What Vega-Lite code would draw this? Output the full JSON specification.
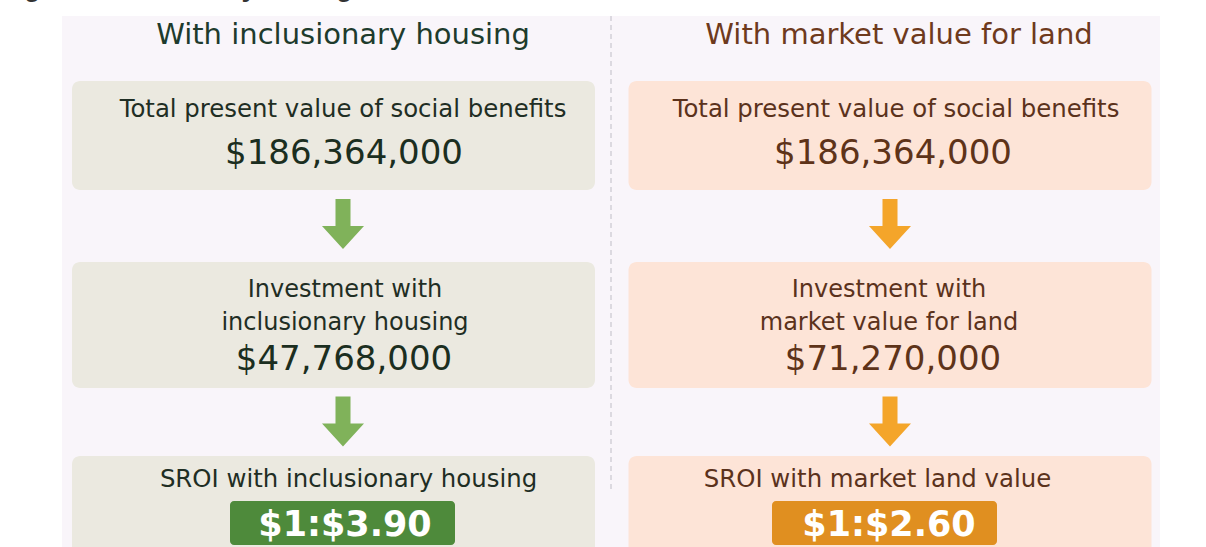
{
  "$schema": "https://vega.github.io/schema/vega-lite/v6.json",
  "width": 1098,
  "height": 531,
  "padding": {"left": 62, "top": 16, "right": 46, "bottom": 0},
  "autosize": {"type": "none"},
  "background": "#ffffff",
  "config": {"view": {"stroke": null, "fill": "#f9f5fa"}, "text": {"font": "DejaVu Sans"}},
  "datasets": {
    "boxes": [
      {"panel": "Inclusionary housing", "step": "benefits"},
      {"panel": "Market value for land", "step": "benefits"},
      {"panel": "Inclusionary housing", "step": "investment"},
      {"panel": "Market value for land", "step": "investment"},
      {"panel": "Inclusionary housing", "step": "sroi"},
      {"panel": "Market value for land", "step": "sroi"}
    ],
    "arrows": [
      {"panel": "Inclusionary housing", "between": "benefits-investment"},
      {"panel": "Market value for land", "between": "benefits-investment"},
      {"panel": "Inclusionary housing", "between": "investment-sroi"},
      {"panel": "Market value for land", "between": "investment-sroi"}
    ],
    "texts": [
      {"panel": "Inclusionary housing", "item": "header", "text": "With inclusionary housing"},
      {"panel": "Market value for land", "item": "header", "text": "With market value for land"},
      {"panel": "Inclusionary housing", "item": "benefitsLabel", "text": "Total present value of social benefits"},
      {"panel": "Market value for land", "item": "benefitsLabel", "text": "Total present value of social benefits"},
      {"panel": "Inclusionary housing", "item": "benefitsValue", "text": "$186,364,000", "amount": 186364000},
      {"panel": "Market value for land", "item": "benefitsValue", "text": "$186,364,000", "amount": 186364000},
      {"panel": "Inclusionary housing", "item": "investmentLabel", "text": "Investment with\ninclusionary housing"},
      {"panel": "Market value for land", "item": "investmentLabel", "text": "Investment with\nmarket value for land"},
      {"panel": "Inclusionary housing", "item": "investmentValue", "text": "$47,768,000", "amount": 47768000},
      {"panel": "Market value for land", "item": "investmentValue", "text": "$71,270,000", "amount": 71270000},
      {"panel": "Inclusionary housing", "item": "sroiLabel", "text": "SROI with inclusionary housing"},
      {"panel": "Market value for land", "item": "sroiLabel", "text": "SROI with market land value"},
      {"panel": "Inclusionary housing", "item": "sroiValue", "text": "$1:$3.90", "amount": 3.9},
      {"panel": "Market value for land", "item": "sroiValue", "text": "$1:$2.60", "amount": 2.6}
    ],
    "divider": [{"at": "between panels", "from": "top", "to": "bottom"}],
    "caption": [{"at": "caption", "text": "Figure 6: Sensitivity testing of land value"}]
  },
  "layer": [
    {
      "data": {"name": "boxes"},
      "transform": [{"filter": "datum.step === 'benefits'"}],
      "mark": {"type": "rect", "width": 523, "height": 109, "cornerRadius": 8},
      "encoding": {
        "x": {"field": "panel", "type": "nominal", "scale": {"type": "point", "domain": ["Inclusionary housing", "Market value for land"], "range": [271.5, 828], "padding": 0}, "axis": null},
        "y": {"field": "step", "type": "nominal", "scale": {"type": "point", "domain": ["benefits"], "range": [119.5, 119.5]}, "axis": null},
        "color": {"field": "panel", "type": "nominal", "scale": {"domain": ["Inclusionary housing", "Market value for land"], "range": ["#ebe9e0", "#fde4d7"]}, "legend": null}
      }
    },
    {
      "data": {"name": "boxes"},
      "transform": [{"filter": "datum.step === 'investment'"}],
      "mark": {"type": "rect", "width": 523, "height": 126, "cornerRadius": 8},
      "encoding": {
        "x": {"field": "panel", "type": "nominal", "scale": {"type": "point", "domain": ["Inclusionary housing", "Market value for land"], "range": [271.5, 828], "padding": 0}, "axis": null},
        "y": {"field": "step", "type": "nominal", "scale": {"type": "point", "domain": ["investment"], "range": [309, 309]}, "axis": null},
        "color": {"field": "panel", "type": "nominal", "scale": {"domain": ["Inclusionary housing", "Market value for land"], "range": ["#ebe9e0", "#fde4d7"]}, "legend": null}
      }
    },
    {
      "data": {"name": "boxes"},
      "transform": [{"filter": "datum.step === 'sroi'"}],
      "mark": {"type": "rect", "width": 523, "height": 130, "cornerRadius": 8},
      "encoding": {
        "x": {"field": "panel", "type": "nominal", "scale": {"type": "point", "domain": ["Inclusionary housing", "Market value for land"], "range": [271.5, 828], "padding": 0}, "axis": null},
        "y": {"field": "step", "type": "nominal", "scale": {"type": "point", "domain": ["sroi"], "range": [505, 505]}, "axis": null},
        "color": {"field": "panel", "type": "nominal", "scale": {"domain": ["Inclusionary housing", "Market value for land"], "range": ["#ebe9e0", "#fde4d7"]}, "legend": null}
      }
    },
    {
      "data": {"name": "divider"},
      "mark": {"type": "rule", "strokeDash": [5, 4], "strokeWidth": 1.5, "color": "#d2cfd8"},
      "encoding": {
        "x": {"field": "at", "type": "nominal", "scale": {"type": "point", "domain": ["between panels"], "range": [549, 549]}, "axis": null},
        "y": {"field": "from", "type": "nominal", "scale": {"type": "point", "domain": ["top", "bottom"], "range": [0, 474], "padding": 0}, "axis": null},
        "y2": {"field": "to"}
      }
    },
    {
      "data": {"name": "arrows"},
      "mark": {"type": "point", "filled": true, "opacity": 1, "strokeWidth": 0, "size": 2916, "shape": "M-0.278,-0.926L0.278,-0.926L0.278,0.074L0.778,0.074L0,0.926L-0.778,0.074L-0.278,0.074Z"},
      "encoding": {
        "x": {"field": "panel", "type": "nominal", "scale": {"type": "point", "domain": ["Inclusionary housing", "Market value for land"], "range": [281, 828], "padding": 0}, "axis": null},
        "y": {"field": "between", "type": "nominal", "scale": {"type": "point", "domain": ["benefits-investment", "investment-sroi"], "range": [208, 405.5], "padding": 0}, "axis": null},
        "color": {"field": "panel", "type": "nominal", "scale": {"domain": ["Inclusionary housing", "Market value for land"], "range": ["#80b25a", "#f4a52a"]}, "legend": null}
      }
    },
    {
      "data": {"name": "texts"},
      "transform": [{"filter": "datum.item === 'sroiValue'"}],
      "mark": {"type": "rect", "width": 225, "height": 44, "cornerRadius": 4},
      "encoding": {
        "x": {"field": "panel", "type": "nominal", "scale": {"type": "point", "domain": ["Inclusionary housing", "Market value for land"], "range": [280.5, 822.5], "padding": 0}, "axis": null},
        "y": {"field": "item", "type": "nominal", "scale": {"type": "point", "domain": ["sroiValue"], "range": [507, 507]}, "axis": null},
        "color": {"field": "panel", "type": "nominal", "scale": {"domain": ["Inclusionary housing", "Market value for land"], "range": ["#4e8a3b", "#e08f20"]}, "legend": null}
      }
    },
    {
      "data": {"name": "texts"},
      "transform": [{"filter": "datum.item === 'header'"}],
      "mark": {"type": "text", "fontSize": 29, "align": "center", "baseline": "middle"},
      "encoding": {
        "x": {"field": "panel", "type": "nominal", "scale": {"type": "point", "domain": ["Inclusionary housing", "Market value for land"], "range": [281, 837], "padding": 0}, "axis": null},
        "y": {"field": "item", "type": "nominal", "scale": {"type": "point", "domain": ["header"], "range": [19, 19]}, "axis": null},
        "text": {"field": "text", "type": "nominal"},
        "color": {"field": "panel", "type": "nominal", "scale": {"domain": ["Inclusionary housing", "Market value for land"], "range": ["#1e3b2d", "#6e3a1d"]}, "legend": null}
      }
    },
    {
      "data": {"name": "texts"},
      "transform": [{"filter": "datum.item === 'benefitsLabel'"}],
      "mark": {"type": "text", "fontSize": 24.4, "align": "center", "baseline": "middle"},
      "encoding": {
        "x": {"field": "panel", "type": "nominal", "scale": {"type": "point", "domain": ["Inclusionary housing", "Market value for land"], "range": [281, 834], "padding": 0}, "axis": null},
        "y": {"field": "item", "type": "nominal", "scale": {"type": "point", "domain": ["benefitsLabel"], "range": [94, 94]}, "axis": null},
        "text": {"field": "text", "type": "nominal"},
        "color": {"field": "panel", "type": "nominal", "scale": {"domain": ["Inclusionary housing", "Market value for land"], "range": ["#1f2e24", "#5b321c"]}, "legend": null}
      }
    },
    {
      "data": {"name": "texts"},
      "transform": [{"filter": "datum.item === 'benefitsValue' || datum.item === 'investmentValue'"}],
      "mark": {"type": "text", "fontSize": 34, "align": "center", "baseline": "middle"},
      "encoding": {
        "x": {"field": "panel", "type": "nominal", "scale": {"type": "point", "domain": ["Inclusionary housing", "Market value for land"], "range": [282, 831], "padding": 0}, "axis": null},
        "y": {"field": "item", "type": "nominal", "scale": {"type": "point", "domain": ["benefitsValue", "investmentValue"], "range": [138, 344], "padding": 0}, "axis": null},
        "text": {"field": "text", "type": "nominal"},
        "color": {"field": "panel", "type": "nominal", "scale": {"domain": ["Inclusionary housing", "Market value for land"], "range": ["#1b2e20", "#5e3319"]}, "legend": null}
      }
    },
    {
      "data": {"name": "texts"},
      "transform": [{"filter": "datum.item === 'investmentLabel'"}],
      "mark": {"type": "text", "fontSize": 24, "align": "center", "baseline": "middle", "lineBreak": "\n", "lineHeight": 33},
      "encoding": {
        "x": {"field": "panel", "type": "nominal", "scale": {"type": "point", "domain": ["Inclusionary housing", "Market value for land"], "range": [283, 827], "padding": 0}, "axis": null},
        "y": {"field": "item", "type": "nominal", "scale": {"type": "point", "domain": ["investmentLabel"], "range": [274, 274]}, "axis": null},
        "text": {"field": "text", "type": "nominal"},
        "color": {"field": "panel", "type": "nominal", "scale": {"domain": ["Inclusionary housing", "Market value for land"], "range": ["#1f2e24", "#5b321c"]}, "legend": null}
      }
    },
    {
      "data": {"name": "texts"},
      "transform": [{"filter": "datum.item === 'sroiLabel'"}],
      "mark": {"type": "text", "fontSize": 24.4, "align": "center", "baseline": "middle"},
      "encoding": {
        "x": {"field": "panel", "type": "nominal", "scale": {"type": "point", "domain": ["Inclusionary housing", "Market value for land"], "range": [286.5, 815.5], "padding": 0}, "axis": null},
        "y": {"field": "item", "type": "nominal", "scale": {"type": "point", "domain": ["sroiLabel"], "range": [464, 464]}, "axis": null},
        "text": {"field": "text", "type": "nominal"},
        "color": {"field": "panel", "type": "nominal", "scale": {"domain": ["Inclusionary housing", "Market value for land"], "range": ["#1f2e24", "#5b321c"]}, "legend": null}
      }
    },
    {
      "data": {"name": "texts"},
      "transform": [{"filter": "datum.item === 'sroiValue'"}],
      "mark": {"type": "text", "fontSize": 35, "fontWeight": "bold", "align": "center", "baseline": "middle", "color": "#ffffff"},
      "encoding": {
        "x": {"field": "panel", "type": "nominal", "scale": {"type": "point", "domain": ["Inclusionary housing", "Market value for land"], "range": [283, 827], "padding": 0}, "axis": null},
        "y": {"field": "item", "type": "nominal", "scale": {"type": "point", "domain": ["sroiValue"], "range": [509, 509]}, "axis": null},
        "text": {"field": "text", "type": "nominal"}
      }
    },
    {
      "data": {"name": "caption"},
      "mark": {"type": "text", "font": "Liberation Sans", "fontSize": 27, "fontWeight": "bold", "align": "left", "baseline": "alphabetic", "color": "#333333"},
      "encoding": {
        "x": {"field": "at", "type": "nominal", "scale": {"type": "point", "domain": ["caption"], "range": [-62, -62]}, "axis": null},
        "y": {"field": "at", "type": "nominal", "scale": {"type": "point", "domain": ["caption"], "range": [-20.5, -20.5]}, "axis": null},
        "text": {"field": "text", "type": "nominal"}
      }
    }
  ],
  "resolve": {"scale": {"x": "independent", "y": "independent", "color": "independent"}}
}
